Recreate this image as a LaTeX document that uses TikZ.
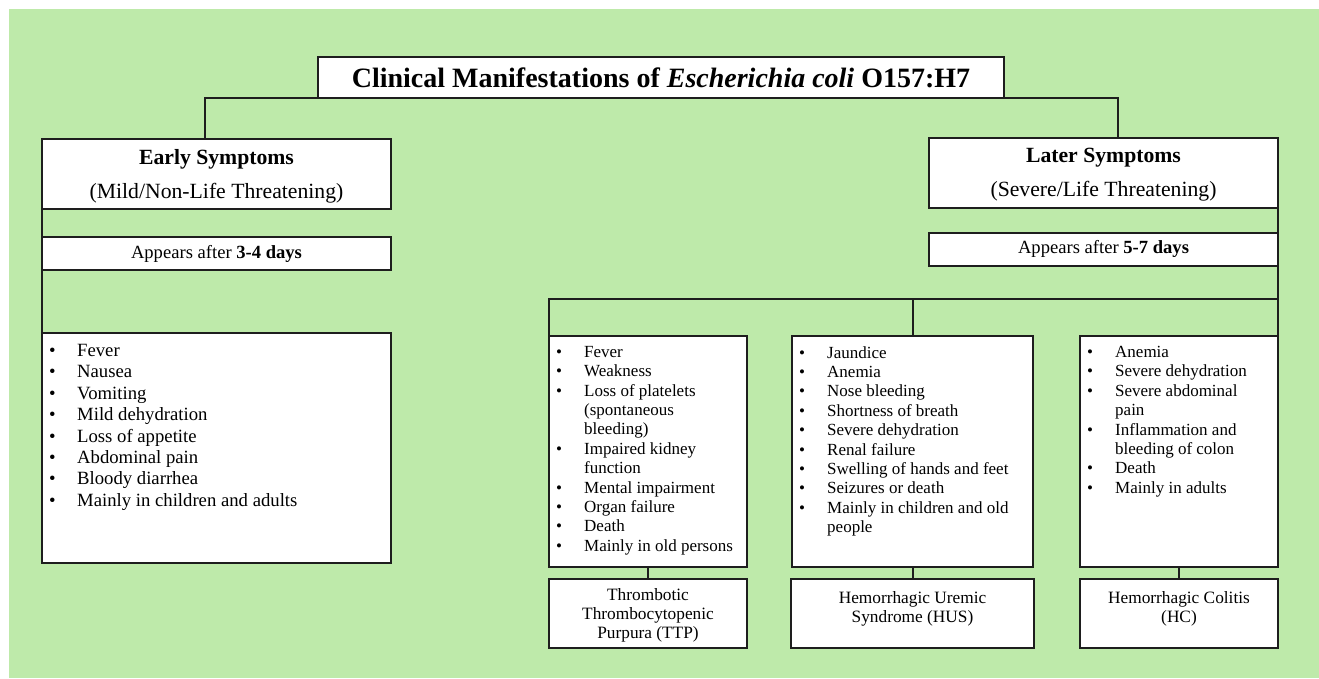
\documentclass[tikz,border=0pt]{standalone}
\usepackage{fontspec}
\setmainfont{Liberation Serif}
\usepackage{xcolor}
\definecolor{mygreen}{RGB}{190, 234, 170}
\definecolor{myline}{RGB}{30, 30, 30}
\usetikzlibrary{positioning}

\newcommand{\bul}{\makebox[28pt][l]{\textbullet}}
\newcommand{\ind}{\hspace*{28pt}}

\begin{document}
\begin{tikzpicture}[
  x=1pt, y=-1pt,
  box/.style={draw=myline, line width=2pt, fill=white, outer sep=0pt, inner sep=0pt, align=center},
  headbox/.style={box, minimum width=349pt, minimum height=70pt, text height=48pt, text depth=0pt,
    font=\fontsize{21.7}{34}\selectfont},
  daybox/.style={box, minimum width=349pt, minimum height=33pt, font=\fontsize{18.6}{22}\selectfont},
  listbox/.style={box, minimum width=198pt, minimum height=231pt},
  namebox/.style={box, minimum width=198pt, minimum height=69pt, text height=17pt, text depth=0pt,
    font=\fontsize{17.3}{19}\selectfont},
  items/.style={inner sep=0pt, align=left, font=\fontsize{17}{19.4}\selectfont},
  line/.style={draw=myline, line width=2pt}
]

\useasboundingbox (0,0) rectangle (1319,678);
\fill[white] (0,0) rectangle (1319,678);
\fill[mygreen] (9,9) rectangle (1319,678);

% top
\node[box, minimum width=686pt, minimum height=41pt, font=\fontsize{28}{30}\selectfont] (title) at (661,77.5)
  {\textbf{Clinical Manifestations of \textit{Escherichia coli} O157:H7}};

% early branch
\node[headbox] (early) at (216.5,174) {\textbf{Early Symptoms}\\(Mild/Non-Life Threatening)};
\node[daybox] (eappear) [below=28pt of early] {Appears after \textbf{3-4 days}};
\node[listbox, minimum width=349pt, minimum height=230pt] (elist) [below=63pt of eappear] {};
\node[items, font=\fontsize{18.7}{21.4}\selectfont] (elisttxt) [below right=11pt and 7pt of elist.north west]
  {\bul Fever\\ \bul Nausea\\ \bul Vomiting\\ \bul Mild dehydration\\ \bul Loss of appetite\\
   \bul Abdominal pain\\ \bul Bloody diarrhea\\ \bul Mainly in children and adults};

% later branch
\node[headbox] (later) at (1103.5,172.5) {\textbf{Later Symptoms}\\(Severe/Life Threatening)};
\node[daybox] (lappear) [below=25pt of later] {Appears after \textbf{5-7 days}};

\node[listbox] (ttplist) at (648,451.5) {};
\node[listbox, minimum width=241pt] (huslist) [right=45pt of ttplist] {};
\node[listbox] (hclist) [right=47pt of huslist] {};

\node[items] (ttptxt) [below right=10pt and 7pt of ttplist.north west]
  {\bul Fever\\ \bul Weakness\\ \bul Loss of platelets\\ \ind (spontaneous\\ \ind bleeding)\\
   \bul Impaired kidney\\ \ind function\\ \bul Mental impairment\\ \bul Organ failure\\
   \bul Death\\ \bul Mainly in old persons};
\node[items] (hustxt) [below right=10pt and 7pt of huslist.north west]
  {\bul Jaundice\\ \bul Anemia\\ \bul Nose bleeding\\ \bul Shortness of breath\\
   \bul Severe dehydration\\ \bul Renal failure\\ \bul Swelling of hands and feet\\
   \bul Seizures or death\\ \bul Mainly in children and old\\ \ind people};
\node[items] (hctxt) [below right=10pt and 7pt of hclist.north west]
  {\bul Anemia\\ \bul Severe dehydration\\ \bul Severe abdominal\\ \ind pain\\
   \bul Inflammation and\\ \ind bleeding of colon\\ \bul Death\\ \bul Mainly in adults};

\node[namebox, text height=49pt] (ttp) [below=12pt of ttplist] {Thrombotic\\Thrombocytopenic\\Purpura (TTP)};
\node[namebox, minimum width=243pt] (hus) [below=12pt of huslist] {Hemorrhagic Uremic\\Syndrome (HUS)};
\node[namebox] (hc) [below=12pt of hclist] {Hemorrhagic Colitis\\(HC)};

\coordinate (bus) at (912.5,299);

% connectors
\draw[line] ([xshift=-11.5pt]early.north) |- ([xshift=14.5pt]later.north |- title.south) -- ([xshift=14.5pt]later.north);
\draw[line] (early.south west) -- (elist.north west);
\draw[line] (later.south east) -- (hclist.north east);
\draw[line] (ttplist.north west) |- (bus) -| (hclist.north east);
\draw[line] (bus) -- (huslist.north);
\draw[line] (ttplist) -- (ttp);
\draw[line] (huslist) -- (hus);
\draw[line] (hclist) -- (hc);

\end{tikzpicture}
\end{document}
